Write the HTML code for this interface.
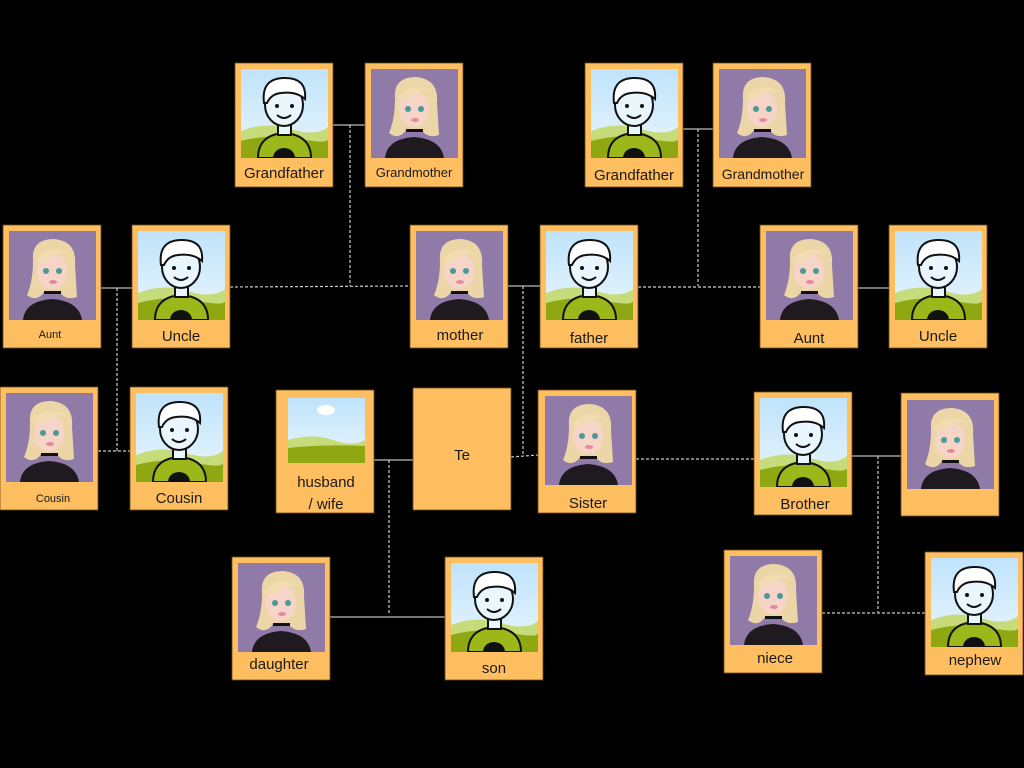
<!DOCTYPE html>
<html><head><meta charset="utf-8"><style>
html,body{margin:0;padding:0;background:#000;}
svg{display:block}
text{font-family:"Liberation Sans",sans-serif;fill:#1a1a1a;text-anchor:middle}
</style></head><body>
<svg width="1024" height="768" viewBox="0 0 1024 768" xmlns="http://www.w3.org/2000/svg">
<defs>
<linearGradient id="sky" x1="0" y1="0" x2="0" y2="1"><stop offset="0" stop-color="#bfe3fb"/><stop offset="1" stop-color="#eaf6fd"/></linearGradient>
<symbol id="boy" viewBox="0 0 87 89">
<rect width="87" height="89" fill="url(#sky)"/>
<path d="M0 62 Q25 52 50 60 T87 58 V89 H0Z" fill="#c6dc7a"/>
<path d="M0 72 Q30 64 60 70 T87 68 V89 H0Z" fill="#8fa812"/>
<path d="M17 89 Q17 66 43 64 Q70 66 70 89Z" fill="#9bb71a" stroke="#111" stroke-width="2"/>
<path d="M32 89 A11 10 0 0 1 54 89Z" fill="#111"/>
<rect x="37" y="54" width="13" height="12" fill="#eaf6fd" stroke="#111" stroke-width="2"/>
<ellipse cx="43" cy="36" rx="19" ry="21" fill="#eaf6fd" stroke="#111" stroke-width="2"/>
<path d="M23 34 Q20 10 42 9 Q66 8 64 30 Q55 22 40 24 Q30 25 26 34Z" fill="#fff" stroke="#111" stroke-width="2"/>
<circle cx="36" cy="37" r="2" fill="#111"/><circle cx="51" cy="37" r="2" fill="#111"/>
<path d="M36 46 Q43 52 50 46" fill="none" stroke="#111" stroke-width="2"/>
</symbol>
<symbol id="girl" viewBox="0 0 87 89">
<rect width="87" height="89" fill="#8f7aa8"/>
<path d="M14 89 Q16 70 43 68 Q70 70 73 89Z" fill="#1e1a1f"/>
<path d="M24 30 Q22 8 45 8 Q68 10 66 34 L68 66 Q56 70 50 60 L36 60 Q28 72 18 64 Q24 50 24 30Z" fill="#ecd6a8"/>
<ellipse cx="43" cy="40" rx="15" ry="18" fill="#f6d5c8"/>
<path d="M26 30 Q36 12 62 22 Q50 20 36 30Z" fill="#f0dcae"/>
<circle cx="37" cy="40" r="3" fill="#4a9a9a"/><circle cx="50" cy="40" r="3" fill="#4a9a9a"/>
<ellipse cx="44" cy="51" rx="4" ry="2" fill="#e58a9a"/>
<rect x="35" y="60" width="17" height="3" fill="#111"/>
</symbol>
<symbol id="land" viewBox="0 0 77 65">
<rect width="77" height="65" fill="url(#sky)"/>
<ellipse cx="38" cy="12" rx="9" ry="5" fill="#fff"/>
<path d="M0 42 Q25 35 45 42 T77 42 V65 H0Z" fill="#c6dc7a"/>
<path d="M0 50 Q35 46 77 48 V65 H0Z" fill="#8fa812"/>
</symbol>
</defs>

<!-- connectors -->
<g stroke="#bbb" stroke-width="1.3" fill="none">
<line x1="333" y1="125" x2="365" y2="125"/>
<line x1="683" y1="129" x2="713" y2="129"/>
<line x1="508" y1="286" x2="540" y2="286"/>
<line x1="101" y1="288" x2="132" y2="288"/>
<line x1="858" y1="288" x2="889" y2="288"/>
<line x1="374" y1="460" x2="413" y2="460"/>
<line x1="852" y1="456" x2="901" y2="456"/>
<line x1="330" y1="617" x2="445" y2="617"/>
</g>
<g stroke="#ccc" stroke-width="1.2" fill="none" stroke-dasharray="3,2">
<line x1="350" y1="125" x2="350" y2="286"/>
<line x1="230" y1="287" x2="410" y2="286"/>
<line x1="698" y1="129" x2="698" y2="286"/>
<line x1="638" y1="287" x2="760" y2="287"/>
<line x1="523" y1="286" x2="523" y2="455"/>
<line x1="511" y1="457" x2="538" y2="455"/>
<line x1="117" y1="288" x2="117" y2="451"/>
<line x1="98" y1="451" x2="130" y2="451"/>
<line x1="389" y1="460" x2="389" y2="615"/>
<line x1="636" y1="459" x2="754" y2="459"/>
<line x1="878" y1="456" x2="878" y2="612"/>
<line x1="822" y1="613" x2="925" y2="613"/>
</g>

<g fill="#ffbf60" stroke="#6b4a1a" stroke-width="0.8">
<rect x="235" y="63" width="98" height="124"/>
<rect x="365" y="63" width="98" height="124"/>
<rect x="585" y="63" width="98" height="124"/>
<rect x="713" y="63" width="98" height="124"/>
<rect x="3" y="225" width="98" height="123"/>
<rect x="132" y="225" width="98" height="123"/>
<rect x="410" y="225" width="98" height="123"/>
<rect x="540" y="225" width="98" height="123"/>
<rect x="760" y="225" width="98" height="123"/>
<rect x="889" y="225" width="98" height="123"/>
<rect x="0" y="387" width="98" height="123"/>
<rect x="130" y="387" width="98" height="123"/>
<rect x="276" y="390" width="98" height="123"/>
<rect x="413" y="388" width="98" height="122"/>
<rect x="538" y="390" width="98" height="123"/>
<rect x="754" y="392" width="98" height="123"/>
<rect x="901" y="393" width="98" height="123"/>
<rect x="232" y="557" width="98" height="123"/>
<rect x="445" y="557" width="98" height="123"/>
<rect x="724" y="550" width="98" height="123"/>
<rect x="925" y="552" width="98" height="123"/>
</g>

<use href="#boy" x="241" y="69" width="87" height="89"/>
<use href="#girl" x="371" y="69" width="87" height="89"/>
<use href="#boy" x="591" y="69" width="87" height="89"/>
<use href="#girl" x="719" y="69" width="87" height="89"/>
<use href="#girl" x="9" y="231" width="87" height="89"/>
<use href="#boy" x="138" y="231" width="87" height="89"/>
<use href="#girl" x="416" y="231" width="87" height="89"/>
<use href="#boy" x="546" y="231" width="87" height="89"/>
<use href="#girl" x="766" y="231" width="87" height="89"/>
<use href="#boy" x="895" y="231" width="87" height="89"/>
<use href="#girl" x="6" y="393" width="87" height="89"/>
<use href="#boy" x="136" y="393" width="87" height="89"/>
<use href="#land" x="288" y="398" width="77" height="65"/>
<use href="#girl" x="545" y="396" width="87" height="89"/>
<use href="#boy" x="760" y="398" width="87" height="89"/>
<use href="#girl" x="907" y="400" width="87" height="89"/>
<use href="#girl" x="238" y="563" width="87" height="89"/>
<use href="#boy" x="451" y="563" width="87" height="89"/>
<use href="#girl" x="730" y="556" width="87" height="89"/>
<use href="#boy" x="931" y="558" width="87" height="89"/>

<g font-size="15">
<text x="284" y="178">Grandfather</text>
<text x="414" y="177" font-size="13">Grandmother</text>
<text x="634" y="180">Grandfather</text>
<text x="763" y="179" font-size="14">Grandmother</text>
<text x="50" y="338" font-size="11">Aunt</text>
<text x="181" y="341">Uncle</text>
<text x="460" y="340">mother</text>
<text x="589" y="343">father</text>
<text x="809" y="343">Aunt</text>
<text x="938" y="341">Uncle</text>
<text x="53" y="502" font-size="11">Cousin</text>
<text x="179" y="503">Cousin</text>
<text x="326" y="487">husband</text>
<text x="326" y="509">/ wife</text>
<text x="462" y="460">Te</text>
<text x="588" y="508">Sister</text>
<text x="805" y="509">Brother</text>
<text x="279" y="669">daughter</text>
<text x="494" y="673">son</text>
<text x="775" y="663">niece</text>
<text x="975" y="665">nephew</text>
</g>
</svg>
</body></html>
